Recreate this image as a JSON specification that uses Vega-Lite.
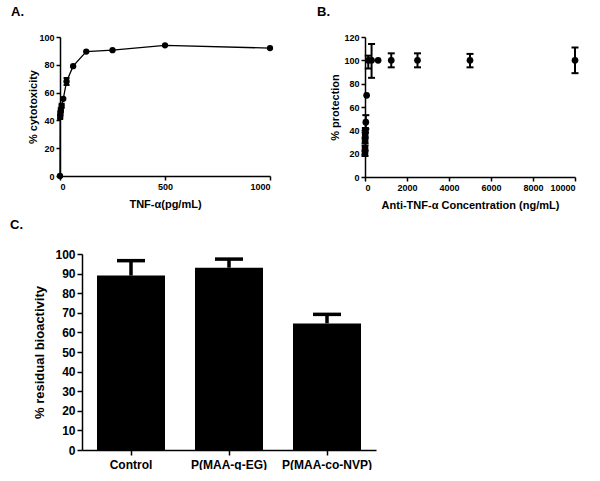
{
  "$schema": "https://vega.github.io/schema/vega-lite/v6.json",
  "background": "white",
  "padding": {"left": 10, "top": 6, "right": 0, "bottom": 0},
  "config": {
    "view": {"stroke": null},
    "font": "Liberation Sans",
    "axis": {"domainColor": "black", "domainWidth": 1.5, "tickColor": "black", "tickWidth": 1.5, "tickSize": 4, "grid": false, "labelFont": "Liberation Sans", "labelFontWeight": "bold", "labelColor": "black", "titleColor": "black", "titleFont": "Liberation Sans", "titleFontWeight": "bold", "labelFontSize": 9, "titleFontSize": 11},
    "axisX": {"titlePadding": 7},
    "title": {"anchor": "start", "fontSize": 13, "font": "Liberation Sans", "fontWeight": "bold", "color": "black", "frame": "group"}
  },
  "datasets": {
    "a": [
      {"conc": 0, "pct": 0},
      {"conc": 0.98, "pct": 42.5, "lo": 41, "hi": 44},
      {"conc": 1.95, "pct": 45, "lo": 43.5, "hi": 46.5},
      {"conc": 3.9, "pct": 47.5, "lo": 46, "hi": 49},
      {"conc": 7.8, "pct": 50.5, "lo": 49, "hi": 52},
      {"conc": 15.6, "pct": 55.5},
      {"conc": 31.25, "pct": 68, "lo": 65.5, "hi": 70.5},
      {"conc": 62.5, "pct": 79},
      {"conc": 125, "pct": 89.5},
      {"conc": 250, "pct": 90.5},
      {"conc": 500, "pct": 94},
      {"conc": 1000, "pct": 92}
    ],
    "b": [
      {"conc": 1.2, "pct": 20, "lo": 18, "hi": 22},
      {"conc": 2.4, "pct": 25, "lo": 23, "hi": 27},
      {"conc": 4.9, "pct": 31, "lo": 29, "hi": 33},
      {"conc": 9.8, "pct": 36, "lo": 34, "hi": 38},
      {"conc": 19.5, "pct": 40, "lo": 38, "hi": 42},
      {"conc": 39, "pct": 47, "lo": 41, "hi": 53},
      {"conc": 78, "pct": 70},
      {"conc": 156, "pct": 100, "lo": 93, "hi": 104},
      {"conc": 312.5, "pct": 100, "lo": 85, "hi": 114},
      {"conc": 625, "pct": 100},
      {"conc": 1250, "pct": 100, "lo": 94, "hi": 106},
      {"conc": 2500, "pct": 100, "lo": 94, "hi": 106},
      {"conc": 5000, "pct": 100, "lo": 94, "hi": 105.5},
      {"conc": 10000, "pct": 100, "lo": 89, "hi": 111}
    ],
    "c": [
      {"group": "Control", "pct": 89, "hi": 96.6},
      {"group": "P(MAA-g-EG)", "pct": 93, "hi": 97.4},
      {"group": "P(MAA-co-NVP)", "pct": 64.6, "hi": 69.2}
    ],
    "empty": []
  },
  "spacing": 9,
  "vconcat": [
    {
      "spacing": 43,
      "hconcat": [
        {
          "title": {"text": "A.", "dx": -49, "offset": 14},
          "width": 210,
          "height": 139,
          "data": {"name": "a"},
          "layer": [
            {
              "mark": {"type": "line", "color": "black", "strokeWidth": 1.3},
              "encoding": {
                "x": {"field": "conc", "type": "quantitative", "title": "TNF-α(pg/mL)", "scale": {"domain": [0, 1000], "nice": false}, "axis": {"values": [0, 500, 1000], "format": "d"}},
                "y": {"field": "pct", "type": "quantitative", "title": "% cytotoxicity", "scale": {"domain": [0, 100], "nice": false}, "axis": {"values": [0, 20, 40, 60, 80, 100], "titlePadding": 0}}
              }
            },
            {
              "transform": [{"filter": "datum.lo != null"}],
              "mark": {"type": "errorbar", "ticks": {"size": 6, "thickness": 2, "color": "black", "opacity": 1}, "rule": {"strokeWidth": 2, "color": "black", "opacity": 1}},
              "encoding": {
                "x": {"field": "conc", "type": "quantitative", "title": "TNF-α(pg/mL)", "axis": {"values": [0, 500, 1000], "format": "d"}},
                "y": {"field": "lo", "type": "quantitative", "title": "% cytotoxicity", "axis": {"values": [0, 20, 40, 60, 80, 100], "titlePadding": 0}},
                "y2": {"field": "hi"}
              }
            },
            {
              "mark": {"type": "point", "filled": true, "color": "black", "size": 40, "opacity": 1},
              "encoding": {
                "x": {"field": "conc", "type": "quantitative", "title": "TNF-α(pg/mL)", "axis": {"values": [0, 500, 1000], "format": "d"}},
                "y": {"field": "pct", "type": "quantitative", "title": "% cytotoxicity", "axis": {"values": [0, 20, 40, 60, 80, 100], "titlePadding": 0}}
              }
            }
          ]
        },
        {
          "title": {"text": "B.", "dx": -48, "offset": 14},
          "width": 210,
          "height": 140,
          "data": {"name": "b"},
          "layer": [
            {
              "transform": [{"filter": "datum.lo != null"}],
              "mark": {"type": "errorbar", "ticks": {"size": 7, "thickness": 2, "color": "black", "opacity": 1}, "rule": {"strokeWidth": 2, "color": "black", "opacity": 1}},
              "encoding": {
                "x": {"field": "conc", "type": "quantitative", "title": "Anti-TNF-α Concentration (ng/mL)", "scale": {"domain": [0, 10000], "nice": false}, "axis": {"values": [0, 2000, 4000, 6000, 8000, 10000], "format": "d"}},
                "y": {"field": "lo", "type": "quantitative", "title": "% protection", "scale": {"domain": [0, 120], "nice": false}, "axis": {"values": [0, 20, 40, 60, 80, 100, 120], "titlePadding": 3}},
                "y2": {"field": "hi"}
              }
            },
            {
              "mark": {"type": "point", "filled": true, "color": "black", "size": 45, "opacity": 1},
              "encoding": {
                "x": {"field": "conc", "type": "quantitative", "title": "Anti-TNF-α Concentration (ng/mL)", "axis": {"values": [0, 2000, 4000, 6000, 8000, 10000], "format": "d"}},
                "y": {"field": "pct", "type": "quantitative", "title": "% protection", "axis": {"values": [0, 20, 40, 60, 80, 100, 120], "titlePadding": 3}}
              }
            }
          ]
        }
      ]
    },
    {
      "spacing": -51,
      "hconcat": [
        {
          "width": 1,
          "height": 1,
          "data": {"name": "empty"},
          "mark": "point"
        },
        {
          "title": {"text": "C.", "dx": -72, "offset": 16},
          "width": 294,
          "height": 196,
          "data": {"name": "c"},
          "encoding": {
            "x": {"field": "group", "type": "nominal", "sort": null, "title": null, "scale": {"paddingInner": 0.306, "paddingOuter": 0.153}, "axis": {"labelAngle": 0, "labelFontSize": 12, "tickSize": 5, "labelPadding": 4}}
          },
          "layer": [
            {
              "mark": {"type": "bar", "color": "black"},
              "encoding": {
                "y": {"field": "pct", "type": "quantitative", "title": "% residual bioactivity", "scale": {"domain": [0, 100], "nice": false}, "axis": {"values": [0, 10, 20, 30, 40, 50, 60, 70, 80, 90, 100], "labelFontSize": 12, "titleFontSize": 13, "tickSize": 5, "titlePadding": 8}}
              }
            },
            {
              "mark": {"type": "rule", "color": "black", "strokeWidth": 3.5},
              "encoding": {
                "y": {"field": "pct", "type": "quantitative", "title": "% residual bioactivity", "axis": {"values": [0, 10, 20, 30, 40, 50, 60, 70, 80, 90, 100], "labelFontSize": 12, "titleFontSize": 13, "tickSize": 5, "titlePadding": 8}},
                "y2": {"field": "hi"}
              }
            },
            {
              "mark": {"type": "tick", "color": "black", "size": 28, "thickness": 3.5, "opacity": 1},
              "encoding": {
                "y": {"field": "hi", "type": "quantitative", "title": "% residual bioactivity", "axis": {"values": [0, 10, 20, 30, 40, 50, 60, 70, 80, 90, 100], "labelFontSize": 12, "titleFontSize": 13, "tickSize": 5, "titlePadding": 8}}
              }
            }
          ]
        }
      ]
    }
  ]
}
